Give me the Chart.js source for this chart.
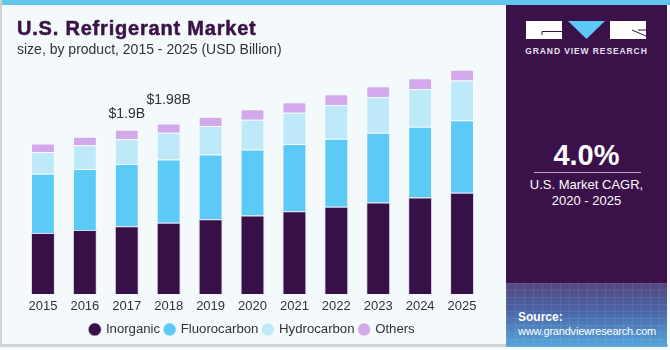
<!DOCTYPE html>
<html>
<head>
<meta charset="utf-8">
<script src="https://cdn.jsdelivr.net/npm/chart.js@4.4.0/dist/chart.umd.min.js"></script>
<style>
  html, body { margin: 0; padding: 0; }
  body { width: 670px; height: 350px; position: relative; overflow: hidden; background: #f4f9fc; font-family: "Liberation Sans", Arial, sans-serif; }
  #frame { position: absolute; left: 0; top: 0; width: 668px; height: 347px; border-left: 2px solid #cfd3d6; border-bottom: 3px solid #cfd3d6; box-sizing: border-box; }
  #stripe { position: absolute; left: 0; top: 0; width: 670px; height: 5px; background: #62c6ee; }
  #chartBox { position: absolute; left: 0; top: 0; width: 500px; height: 350px; }
  #title { position: absolute; left: 17px; top: 17px; font-size: 20px; font-weight: bold; color: #3a1149; letter-spacing: 0.8px; white-space: nowrap; -webkit-text-stroke: 0.5px #3a1149; }
  #subtitle { position: absolute; left: 17px; top: 41px; font-size: 14px; color: #333; white-space: nowrap; }
  #panel { position: absolute; left: 506px; top: 5px; width: 161px; height: 342px; background: #3a1149; color: #fff; }
  #logo { position: absolute; left: 20px; top: 15px; }
  #brand { position: absolute; left: 0; width: 161px; top: 41px; text-align: center; font-size: 8.5px; font-weight: bold; letter-spacing: 0.9px; color: #e8e2ee; }
  #cagr { position: absolute; left: 0; width: 161px; top: 134px; text-align: center; font-size: 29px; font-weight: bold; }
  #rule { position: absolute; left: 28px; width: 107px; top: 167px; height: 1px; background: #b9a9c6; }
  #cagrText { position: absolute; left: 0; width: 161px; top: 172px; text-align: center; font-size: 13px; line-height: 16px; }
  #source { position: absolute; left: 0; top: 278px; width: 161px; height: 64px;
    background:
      repeating-linear-gradient(90deg, rgba(255,255,255,0.08) 0 1px, transparent 1px 9px),
      repeating-linear-gradient(0deg, rgba(255,255,255,0.08) 0 1px, transparent 1px 7px),
      linear-gradient(to bottom, #55467f 0%, #4a66a8 45%, #55a6dc 100%); }
  #sourceText { position: absolute; left: 12px; top: 27px; font-size: 11px; letter-spacing: -0.2px; line-height: 14px; color: #fff; white-space: nowrap; }
  #sourceText b { font-size: 12px; letter-spacing: 0; }
</style>
</head>
<body>
<div id="stripe"></div>
<div id="frame"></div>
<div id="chartBox"><canvas id="myChart" width="500" height="350"></canvas></div>
<div id="title">U.S. Refrigerant Market</div>
<div id="subtitle">size, by product, 2015 - 2025 (USD Billion)</div>

<div id="panel">
  <svg id="logo" width="122" height="24" viewBox="0 0 122 24">
    <rect x="0" y="1" width="36" height="18" fill="#fff"/>
    <path d="M16,15 L16,11.5 L36,11.5" stroke="#3a1149" stroke-width="1" fill="none"/>
    <polygon points="42,1 79,1 60.5,19" fill="#5bc8f5"/>
    <rect x="84" y="1" width="36" height="18" fill="#fff"/>
    <path d="M106,10 L120,16 M112,10 L120,10" stroke="#3a1149" stroke-width="1" fill="none"/>
  </svg>
  <div id="brand">GRAND VIEW RESEARCH</div>
  <div id="cagr">4.0%</div>
  <div id="rule"></div>
  <div id="cagrText">U.S. Market CAGR,<br>2020 - 2025</div>
  <div id="source">
    <div id="sourceText"><b>Source:</b><br>www.grandviewresearch.com</div>
  </div>
</div>

<script>
var years = ['2015', '2016', '2017', '2018', '2019', '2020', '2021', '2022', '2023', '2024', '2025'];
var inorganic    = [0.709, 0.744, 0.786, 0.826, 0.868, 0.911, 0.961, 1.012, 1.062, 1.120, 1.175];
var fluorocarbon = [0.686, 0.705, 0.721, 0.733, 0.749, 0.764, 0.776, 0.786, 0.806, 0.818, 0.837];
var hydrocarbon  = [0.251, 0.276, 0.287, 0.309, 0.329, 0.344, 0.364, 0.392, 0.412, 0.438, 0.462];
var others       = [0.098, 0.097, 0.108, 0.109, 0.108, 0.121, 0.121, 0.124, 0.128, 0.124, 0.123];
// total labels shown above two bars
var callouts = [
    { index: 2, text: '$1.9B', lift: 16 },
    { index: 3, text: '$1.98B', lift: 23 }
];

document.addEventListener('DOMContentLoaded', function () {
    var ctx = document.getElementById('myChart').getContext('2d');

    var edge = 'rgba(255,255,255,0.3)';

    var calloutPlugin = {
        id: 'callouts',
        afterDatasetsDraw: function (chart) {
            var meta = chart.getDatasetMeta(3);
            var c = chart.ctx;
            c.save();
            c.font = '14px "Liberation Sans", Arial, sans-serif';
            c.fillStyle = '#333333';
            c.textAlign = 'center';
            c.textBaseline = 'middle';
            callouts.forEach(function (item) {
                var bar = meta.data[item.index];
                c.fillText(item.text, bar.x, bar.y - item.lift);
            });
            c.restore();
        }
    };

    var data = {
        labels: years,
        datasets: [
            { label: 'Inorganic', data: inorganic, backgroundColor: '#371047', borderColor: 'rgba(200,180,220,0.5)', borderWidth: 1 },
            { label: 'Fluorocarbon', data: fluorocarbon, backgroundColor: '#5bcaf6', borderColor: edge, borderWidth: 1 },
            { label: 'Hydrocarbon', data: hydrocarbon, backgroundColor: '#bde9f9', borderColor: edge, borderWidth: 1 },
            { label: 'Others', data: others, backgroundColor: '#d4a9eb', borderColor: edge, borderWidth: 1,
              borderRadius: { topLeft: 2, topRight: 2 }, borderSkipped: 'bottom' }
        ]
    };

    var options = {
        responsive: false,
        animation: false,
        datasets: { bar: { barPercentage: 0.57, categoryPercentage: 1.0 } },
        layout: { padding: { left: 22, right: 17, top: 35, bottom: 4 } },
        scales: {
            x: {
                stacked: true,
                grid: { display: false, drawTicks: false },
                border: { display: false },
                ticks: { color: '#333333', padding: 4, font: { size: 13, family: '"Liberation Sans", Arial, sans-serif' } }
            },
            y: {
                stacked: true,
                display: false,
                min: 0,
                max: 3.0
            }
        },
        plugins: {
            legend: {
                position: 'bottom',
                labels: {
                    usePointStyle: true,
                    pointStyle: 'circle',
                    boxWidth: 9,
                    boxHeight: 9,
                    padding: 5,
                    color: '#333333',
                    font: { size: 13.2, family: '"Liberation Sans", Arial, sans-serif' }
                }
            },
            tooltip: { enabled: false }
        }
    };

    var myChart = new Chart(ctx, {
        type: 'bar',
        data: data,
        options: options,
        plugins: [calloutPlugin]
    });
});
</script>
</body>
</html>
